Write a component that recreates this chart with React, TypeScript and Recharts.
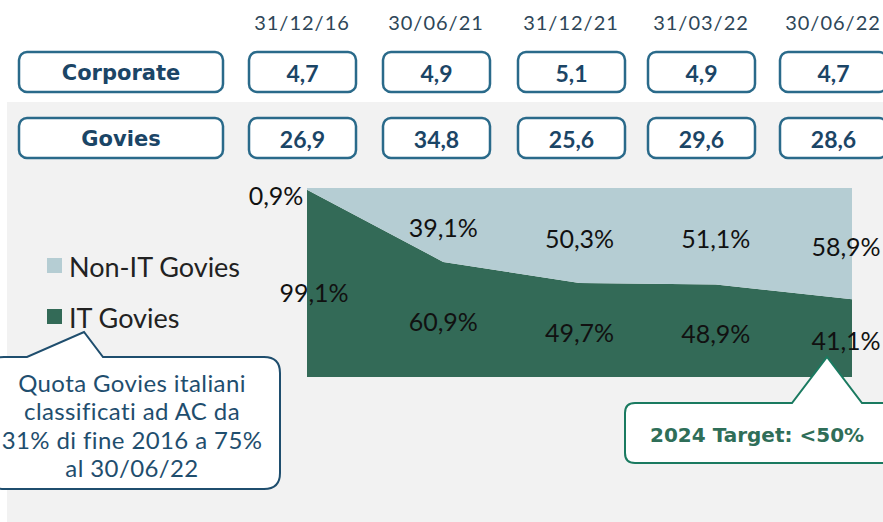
import { AreaChart, Area, XAxis, YAxis, LabelList } from 'recharts';

// dates and amounts (bn) shown above the chart
const dates = ['31/12/16', '30/06/21', '31/12/21', '31/03/22', '30/06/22'];
const corporate = ['4,7', '4,9', '5,1', '4,9', '4,7'];
const govies = ['26,9', '34,8', '25,6', '29,6', '28,6'];

// share of govies (%)
const itGovies = [99.1, 60.9, 49.7, 48.9, 41.1];
const nonItGovies = [0.9, 39.1, 50.3, 51.1, 58.9];

const data = dates.map((d, i) => ({
  date: d,
  it: itGovies[i],
  nonIt: nonItGovies[i],
}));

const W = 883;
const H = 522;
const PLOT_TOP = 188;
const PLOT_BOTTOM = 377;
const PLOT_H = PLOT_BOTTOM - PLOT_TOP;
const FONT = 'Lato, "Noto Sans", sans-serif';
const WIDE_BOLD = '"DejaVu Sans", sans-serif';
const BOX_CENTERS = [302, 436, 571, 701, 833];

const fmt = (v: number) => v.toFixed(1).replace('.', ',') + '%';

const makeLabel = (series: 'it' | 'nonIt') => (props: any) => {
  const { x, y, value, index } = props;
  let cx = x;
  let cy = y + (value / 100) * PLOT_H / 2 + 2;
  if (index === 0) {
    if (series === 'nonIt') {
      cx = x - 31;
      cy = 195;
    } else {
      cx = x + 7;
      cy = 292;
    }
  }
  // keep the last column inside the picture
  if (index === dates.length - 1) cx = x - 6;
  return (
    <text
      x={cx}
      y={cy}
      textAnchor="middle"
      dominantBaseline="central"
      fontFamily={FONT}
      fontSize={25}
      fill="#111"
    >
      {fmt(value)}
    </text>
  );
};

// rounded box with a triangular pointer on its top edge
const calloutPath = (
  l: number, t: number, r: number, b: number, rad: number,
  p1: number, tipX: number, tipY: number, p2: number
) =>
  `M ${l + rad} ${t} L ${p1} ${t} L ${tipX} ${tipY} L ${p2} ${t} L ${r - rad} ${t} ` +
  `Q ${r} ${t} ${r} ${t + rad} L ${r} ${b - rad} Q ${r} ${b} ${r - rad} ${b} ` +
  `L ${l + rad} ${b} Q ${l} ${b} ${l} ${b - rad} L ${l} ${t + rad} Q ${l} ${t} ${l + rad} ${t} Z`;

const Box = ({ x, y, w, text, wide }: { x: number; y: number; w: number; text: string; wide?: boolean }) => (
  <g>
    <rect x={x} y={y} width={w} height={40} rx={8} fill="#fff" stroke="#2a6a8a" strokeWidth={2.5} />
    <text
      x={x + w / 2}
      y={y + 21}
      textAnchor="middle"
      dominantBaseline="central"
      fontFamily={wide ? WIDE_BOLD : FONT}
      fontWeight={700}
      fontSize={wide ? 21 : 23}
      fill="#1b4566"
    >
      {text}
    </text>
  </g>
);

const App = () => {
  return (
    <div style={{ position: 'absolute', left: 0, top: 0, width: W, height: H, background: '#fff', overflow: 'hidden' }}>
      <div style={{ position: 'absolute', left: 7, top: 102, width: W - 7, height: H - 102, background: '#f2f2f2' }} />
      <div style={{ position: 'absolute', left: 0, top: 0 }}>
        <AreaChart
          width={W}
          height={H}
          data={data}
          margin={{ top: PLOT_TOP, bottom: H - PLOT_BOTTOM, left: 307, right: W - 852 }}
        >
          <XAxis dataKey="date" hide />
          <YAxis hide domain={[0, 100]} />
          <Area
            type="linear"
            dataKey="it"
            stackId="a"
            stroke="none"
            fill="#336a57"
            fillOpacity={1}
            isAnimationActive={false}
          >
            <LabelList dataKey="it" content={makeLabel('it')} />
          </Area>
          <Area
            type="linear"
            dataKey="nonIt"
            stackId="a"
            stroke="none"
            fill="#b5cdd3"
            fillOpacity={1}
            isAnimationActive={false}
          >
            <LabelList dataKey="nonIt" content={makeLabel('nonIt')} />
          </Area>
        </AreaChart>
      </div>
      <svg
        width={W}
        height={H}
        style={{ position: 'absolute', left: 0, top: 0, pointerEvents: 'none' }}
      >
        {dates.map((d, i) => (
          <text
            key={d}
            x={BOX_CENTERS[i]}
            y={22}
            textAnchor="middle"
            dominantBaseline="central"
            fontFamily={FONT}
            fontSize={20}
            letterSpacing={1}
            fill="#2e4658"
          >
            {d}
          </text>
        ))}
        <Box x={19} y={52} w={204} text="Corporate" wide />
        <Box x={19} y={118} w={204} text="Govies" wide />
        {corporate.map((v, i) => (
          <Box key={'c' + i} x={BOX_CENTERS[i] - 53} y={52} w={107} text={v} />
        ))}
        {govies.map((v, i) => (
          <Box key={'g' + i} x={BOX_CENTERS[i] - 53} y={118} w={107} text={v} />
        ))}

        {/* legend */}
        <rect x={47} y={258} width={15} height={15} fill="#b5cdd3" />
        <text x={69} y={266} dominantBaseline="central" fontFamily={FONT} fontSize={27} fill="#222">
          Non-IT Govies
        </text>
        <rect x={47} y={309} width={15} height={15} fill="#336a57" />
        <text x={69} y={317} dominantBaseline="central" fontFamily={FONT} fontSize={27} fill="#222">
          IT Govies
        </text>

        {/* callout left */}
        <path
          d={calloutPath(-12, 357, 280, 489, 16, 27, 84, 332, 103)}
          fill="#fff"
          stroke="#1f4e6e"
          strokeWidth={2}
        />
        {['Quota Govies italiani', 'classificati ad AC da', '31% di fine 2016 a 75%', 'al 30/06/22'].map((l, i) => (
          <text
            key={l}
            x={132}
            y={382 + i * 28.5}
            textAnchor="middle"
            dominantBaseline="central"
            fontFamily={FONT}
            fontSize={24}
            letterSpacing={0.4}
            fill="#1f4e6e"
          >
            {l}
          </text>
        ))}

        {/* callout target */}
        <path
          d={calloutPath(625, 403, 900, 463, 10, 792, 827, 357, 862)}
          fill="#fff"
          stroke="#1a7a60"
          strokeWidth={2}
        />
        <text
          x={650}
          y={435}
          dominantBaseline="central"
          fontFamily={WIDE_BOLD}
          fontWeight={700}
          fontSize={20}
          fill="#2f6e58"
        >
          2024 Target: &lt;50%
        </text>
      </svg>
    </div>
  );
};

export default App;
